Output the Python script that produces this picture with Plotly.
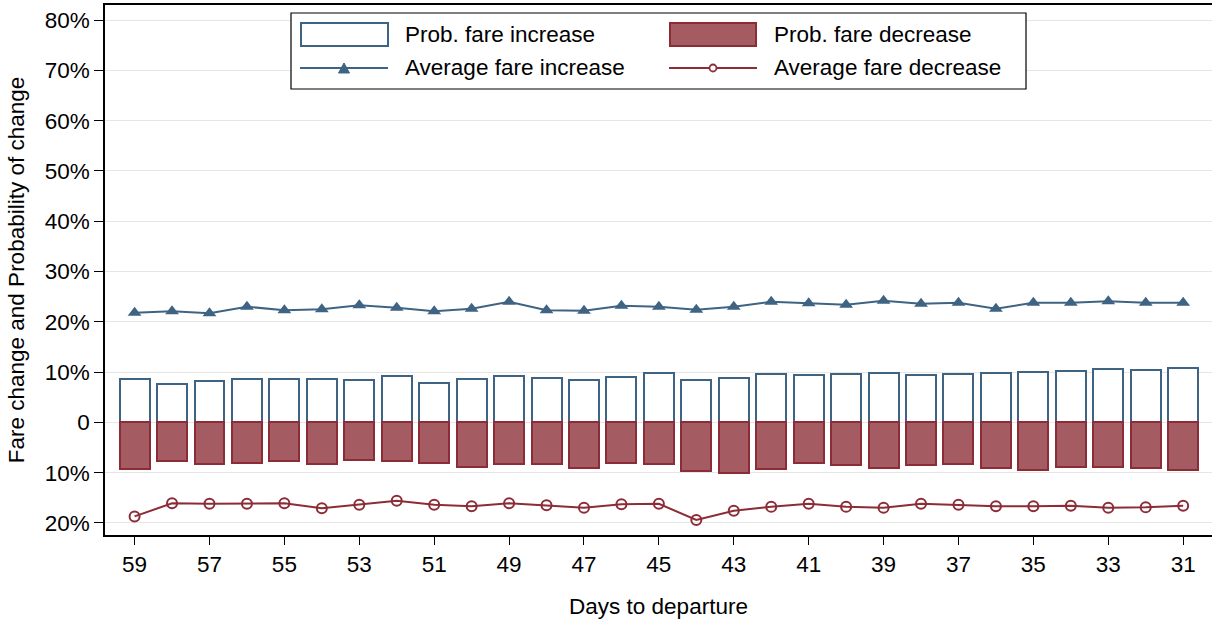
import plotly.graph_objects as go

# ---------------- data (values in percent) ----------------
days = [59, 58, 57, 56, 55, 54, 53, 52, 51, 50, 49, 48, 47, 46, 45,
        44, 43, 42, 41, 40, 39, 38, 37, 36, 35, 34, 33, 32, 31]

prob_increase = [8.6, 7.7, 8.2, 8.6, 8.6, 8.6, 8.4, 9.2, 7.8, 8.6, 9.2, 8.8, 8.5, 9.0, 9.8,
                 8.4, 8.9, 9.6, 9.4, 9.6, 9.9, 9.5, 9.6, 9.9, 10.0, 10.2, 10.6, 10.4, 10.8]

prob_decrease = [9.2, 7.6, 8.3, 8.0, 7.7, 8.2, 7.5, 7.6, 8.0, 8.9, 8.2, 8.3, 9.1, 8.0, 8.2,
                 9.7, 10.0, 9.2, 8.1, 8.5, 9.0, 8.4, 8.3, 9.1, 9.4, 8.8, 8.8, 9.0, 9.4]

avg_increase = [21.8, 22.1, 21.7, 23.0, 22.3, 22.5, 23.3, 22.8, 22.1, 22.6, 24.0, 22.3, 22.2, 23.2, 23.0,
                22.4, 23.0, 24.0, 23.7, 23.4, 24.2, 23.6, 23.8, 22.6, 23.8, 23.8, 24.1, 23.8, 23.8]

avg_decrease = [18.7, 16.1, 16.2, 16.2, 16.1, 17.1, 16.4, 15.6, 16.4, 16.7, 16.1, 16.5, 17.0, 16.3, 16.2,
                19.4, 17.6, 16.8, 16.2, 16.8, 17.0, 16.2, 16.4, 16.7, 16.7, 16.6, 17.0, 16.9, 16.6]

x_tickvals = [59, 57, 55, 53, 51, 49, 47, 45, 43, 41, 39, 37, 35, 33, 31]
y_tickvals = [-20, -10, 0, 10, 20, 30, 40, 50, 60, 70, 80]
y_ticktext = ["20%", "10%", "0", "10%", "20%", "30%", "40%", "50%", "60%", "70%", "80%"]

legend_labels = ["Prob. fare increase", "Prob. fare decrease",
                 "Average fare increase", "Average fare decrease"]

# ---------------- styles ----------------
BLUE = "#3e6383"
RED_LINE = "#8c2c37"
RED_FILL = "#a45b61"
FONT = "Liberation Sans, Arial, Helvetica, sans-serif"
FS = 22.5
W, H = 1212, 625
ML, MR, MT, MB = 105, 0, 5, 90

fig = go.Figure()

fig.add_trace(go.Bar(
    x=days, y=prob_increase, width=0.8,
    marker=dict(color="white", line=dict(color=BLUE, width=2)),
    name=legend_labels[0], showlegend=False))

fig.add_trace(go.Bar(
    x=days, y=[-v for v in prob_decrease], width=0.8,
    marker=dict(color=RED_FILL, line=dict(color=RED_LINE, width=2)),
    name=legend_labels[1], showlegend=False))

fig.add_trace(go.Scatter(
    x=days, y=avg_increase, mode="lines+markers",
    line=dict(color=BLUE, width=2),
    marker=dict(symbol="triangle-up", size=12, color=BLUE),
    name=legend_labels[2], showlegend=False))

fig.add_trace(go.Scatter(
    x=days, y=[-v for v in avg_decrease], mode="lines+markers",
    line=dict(color=RED_LINE, width=2),
    marker=dict(symbol="circle-open", size=10, color=RED_LINE, line=dict(width=2)),
    name=legend_labels[3], showlegend=False))

# ---------------- custom legend (pixel -> paper) ----------------
pw = W - ML - MR
ph = H - MT - MB


def px(x):
    return (x - ML) / pw


def py(y):
    return (H - MB - y) / ph


shapes = []
annotations = []
# legend frame
shapes.append(dict(type="rect", xref="paper", yref="paper",
                   x0=px(291), x1=px(1026), y0=py(89), y1=py(13),
                   line=dict(color="black", width=1.2), fillcolor="white", layer="above"))
# bar symbols
shapes.append(dict(type="rect", xref="paper", yref="paper",
                   x0=px(301), x1=px(388), y0=py(46), y1=py(23),
                   line=dict(color=BLUE, width=2), fillcolor="white", layer="above"))
shapes.append(dict(type="rect", xref="paper", yref="paper",
                   x0=px(670), x1=px(756), y0=py(46), y1=py(23),
                   line=dict(color=RED_LINE, width=2), fillcolor=RED_FILL, layer="above"))
# line symbols
shapes.append(dict(type="line", xref="paper", yref="paper",
                   x0=px(300), x1=px(388), y0=py(68), y1=py(68),
                   line=dict(color=BLUE, width=2), layer="above"))
shapes.append(dict(type="path", xref="paper", yref="paper",
                   path="M {} {} L {} {} L {} {} Z".format(px(338.5), py(73), px(349.5), py(73), px(344), py(63)),
                   line=dict(color=BLUE, width=1), fillcolor=BLUE, layer="above"))
shapes.append(dict(type="line", xref="paper", yref="paper",
                   x0=px(669), x1=px(757), y0=py(68), y1=py(68),
                   line=dict(color=RED_LINE, width=2), layer="above"))
shapes.append(dict(type="circle", xref="paper", yref="paper",
                   x0=px(709.5), x1=px(716.5), y0=py(71.5), y1=py(64.5),
                   line=dict(color=RED_LINE, width=1.8), fillcolor="white", layer="above"))

for (tx, ty), label in zip([(403, 35), (772, 35), (403, 68), (772, 68)], legend_labels):
    annotations.append(dict(xref="paper", yref="paper", x=px(tx), y=py(ty),
                            text=label, showarrow=False, xanchor="left", yanchor="middle",
                            font=dict(size=FS, color="black", family=FONT)))

fig.update_layout(
    width=W, height=H,
    margin=dict(l=ML, r=MR, t=MT, b=MB),
    paper_bgcolor="white", plot_bgcolor="white",
    barmode="overlay", bargap=0,
    font=dict(family=FONT, size=FS, color="black"),
    shapes=shapes, annotations=annotations,
    showlegend=False,
    xaxis=dict(
        range=[59.79, 30.23], tickvals=x_tickvals,
        showline=True, linecolor="black", linewidth=1.5, mirror=True,
        ticks="outside", ticklen=8, tickwidth=1.3, tickcolor="black",
        showgrid=False, zeroline=False,
        title=dict(text="Days to departure", standoff=22, font=dict(size=FS)),
        tickfont=dict(size=FS)),
    yaxis=dict(
        range=[-22.4, 83.0], tickvals=y_tickvals, ticktext=y_ticktext,
        showline=True, linecolor="black", linewidth=1.5,
        ticks="outside", ticklen=9, tickwidth=1.3, tickcolor="black",
        showgrid=True, gridcolor="#e6e6e6", gridwidth=1, zeroline=False,
        title=dict(text="Fare change and Probability of change", standoff=14, font=dict(size=FS)),
        tickfont=dict(size=FS)),
)

fig.write_html("out.html")
